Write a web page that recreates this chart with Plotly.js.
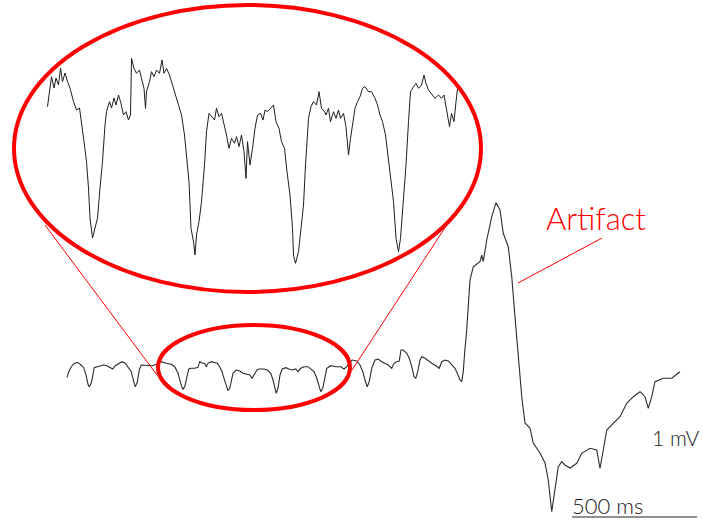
<!DOCTYPE html>
<html>
<head>
<meta charset="utf-8">
<script src="https://cdn.plot.ly/plotly-3.0.1.min.js"></script>
<style>html,body{margin:0;padding:0;background:#fff;}#chart{width:703px;height:521px;}</style>
</head>
<body>
<div id="chart"></div>
<script>
// Main recording: time (ms) and voltage (µV)
const mainTime = [-4,3,13,23,36,49,63,72,80,85,93,100,105,116,129,143,156,169,179,189,203,216,229,243,253,263,269,277,285,293,309,325,339,356,373,393,413,427,440,451,459,467,476,483,493,507,520,527,537,547,553,560,573,587,597,607,616,624,633,640,647,653,660,673,687,700,713,727,736,747,756,764,784,797,811,820,828,833,840,848,857,871,884,897,911,920,931,944,960,973,984,995,1004,1011,1019,1027,1035,1051,1071,1091,1104,1115,1124,1137,1155,1168,1179,1188,1197,1205,1215,1228,1241,1255,1268,1281,1295,1304,1315,1325,1332,1341,1355,1365,1375,1384,1391,1399,1408,1415,1428,1441,1455,1472,1485,1495,1508,1521,1535,1548,1557,1568,1575,1581,1588,1594,1608,1621,1648,1655,1661,1675,1695,1712,1728,1741,1761,1775,1788,1801,1815,1828,1848,1861,1888,1908,1921,1935,1948,1961,1975,1988,2008,2035,2055,2088,2115,2128,2141,2155,2181,2208,2235,2261,2288,2308,2321,2335,2348,2381,2415,2448];
const mainVolt = [-186,-74,26,80,114,74,6,-140,-326,-374,-306,-140,6,26,46,60,46,6,-20,46,94,126,94,6,-74,-274,-374,-286,-40,60,60,46,46,80,126,94,74,26,-106,-306,-426,-374,-140,-20,-6,-6,14,126,94,94,26,94,126,114,94,26,-74,-206,-374,-454,-406,-240,-106,-40,-60,-106,-126,-140,-206,-106,-40,-20,-20,-40,-106,-240,-440,-506,-406,-140,-20,6,-20,-40,-20,-74,-6,26,26,-20,-74,-206,-374,-474,-406,-174,-6,46,26,26,-20,26,94,160,140,60,-74,-240,-374,-274,-6,160,180,126,94,60,-6,94,126,140,360,360,294,194,26,-174,-206,-74,160,226,194,140,94,46,-6,126,160,140,74,-6,-106,-240,-274,-74,394,700,1760,2026,2126,2260,2126,2560,3026,3306,3160,2694,2426,1826,1026,226,-574,-1100,-1200,-1500,-1700,-1900,-2240,-2874,-2440,-1974,-1874,-1940,-2000,-1906,-1706,-1606,-1640,-2006,-1640,-1240,-1106,-974,-706,-574,-474,-574,-806,-574,-274,-206,-206,-74];

// Magnified segment (inside the small ellipse): time (ms) and voltage (µV)
const zoomTime = [371,376,379,384,388,393,397,401,406,411,416,423,429,435,439,444,449,453,456,461,466,471,476,481,486,489,495,499,504,508,513,517,523,528,533,537,539,544,549,555,559,564,567,569,575,579,584,589,595,600,604,609,615,619,626,633,639,645,649,654,658,663,666,669,674,679,685,689,694,699,705,709,714,719,725,729,734,739,745,749,754,759,764,768,771,776,781,786,791,797,802,806,811,817,823,828,834,839,845,850,856,861,863,867,873,878,883,887,893,898,903,909,914,919,925,928,933,937,943,948,953,957,963,968,973,977,981,986,991,996,1001,1006,1013,1019,1026,1031,1036,1041,1047,1052,1057,1063,1068,1073,1077,1083,1088,1093,1097,1103,1108,1113,1119,1124,1128,1133,1139,1146,1153,1159,1164,1169,1175,1179,1184,1188,1191];
const zoomVolt = [19,75,109,75,105,84,135,94,120,94,75,34,9,15,-26,-86,-146,-225,-315,-375,-345,-315,-225,-146,-36,4,34,15,45,24,54,34,-6,4,-21,-6,164,134,119,129,104,74,14,64,94,124,109,129,119,159,119,134,114,94,64,24,-6,-66,-126,-206,-346,-386,-426,-366,-326,-266,-156,-56,-1,-11,-21,14,-11,-1,-36,-66,-106,-76,-91,-71,-101,-66,-116,-196,-86,-156,-106,-46,-6,-1,-21,9,4,14,24,-26,-46,-86,-106,-176,-246,-346,-426,-451,-416,-346,-276,-156,-16,19,34,24,64,14,4,-6,14,-26,4,-16,9,-16,-1,-41,-126,-76,-41,14,34,49,74,79,64,64,44,24,-6,-26,-66,-126,-196,-266,-376,-416,-376,-266,-156,-26,64,79,89,74,84,114,89,69,59,44,54,44,54,14,-41,-1,-26,34,74];

// Scale bar and labels
const scaleBarMs = 500;
const scaleBarStart = 2016;
const labels = {artifact: "Artifact", time: "500 ms", volt: "1 mV"};

const RED = "#ff0000";
const traces = [
  {x: mainTime, y: mainVolt, type: "scatter", mode: "lines", xaxis: "x", yaxis: "y",
   line: {color: "#2b2b2b", width: 1.1}, hoverinfo: "skip"},
  {x: zoomTime, y: zoomVolt, type: "scatter", mode: "lines", xaxis: "x2", yaxis: "y2",
   line: {color: "#1e1e1e", width: 1}, hoverinfo: "skip"}
];

const W = 703, H = 521;
const px = v => v / W;
const py = v => 1 - v / H;

const layout = {
  width: W, height: H,
  margin: {l: 0, r: 0, t: 0, b: 0, pad: 0},
  paper_bgcolor: "#ffffff", plot_bgcolor: "rgba(0,0,0,0)",
  showlegend: false,
  font: {family: "Lato, 'Liberation Sans', sans-serif"},
  xaxis: {domain: [0, 1], range: [-272, 2540], visible: false, fixedrange: true},
  yaxis: {domain: [0, 1], range: [-3060, 7360], visible: false, fixedrange: true},
  xaxis2: {domain: [px(40), px(470)], range: [356, 1216], visible: false, anchor: "y2"},
  yaxis2: {domain: [py(280), py(40)], range: [-501, 219], visible: false, anchor: "x2"},
  shapes: [
    {type: "circle", xref: "paper", yref: "paper", x0: px(14), x1: px(481), y0: py(292), y1: py(5),
     line: {color: RED, width: 4}},
    {type: "circle", xref: "x", yref: "y", x0: 360, x1: 1128, y0: -840, y1: 860,
     line: {color: RED, width: 4}},
    {type: "line", xref: "paper", yref: "paper", x0: px(45), y0: py(225), x1: px(157), y1: py(375),
     line: {color: RED, width: 1}},
    {type: "line", xref: "paper", yref: "paper", x0: px(450), y0: py(220), x1: px(352), y1: py(370),
     line: {color: RED, width: 1}},
    {type: "line", xref: "paper", yref: "paper", x0: px(518), y0: py(283), x1: px(602), y1: py(238),
     line: {color: RED, width: 1}},
    {type: "line", xref: "x", yref: "paper", x0: scaleBarStart, x1: scaleBarStart + scaleBarMs,
     y0: py(517), y1: py(517), line: {color: "#222", width: 1}}
  ],
  annotations: [
    {text: labels.artifact, xref: "paper", yref: "paper", x: px(544), y: py(218), xanchor: "left", yanchor: "middle",
     showarrow: false, font: {color: RED, size: 31, weight: 300}},
    {text: labels.time, xref: "paper", yref: "paper", x: px(570), y: py(505), xanchor: "left", yanchor: "middle",
     showarrow: false, font: {color: "#222", size: 22, weight: 300}},
    {text: labels.volt, xref: "paper", yref: "paper", x: px(701), y: py(437), xanchor: "right", yanchor: "middle",
     showarrow: false, font: {color: "#222", size: 21, weight: 300}}
  ]
};

Plotly.newPlot("chart", traces, layout, {staticPlot: true, displayModeBar: false});
</script>
</body>
</html>
